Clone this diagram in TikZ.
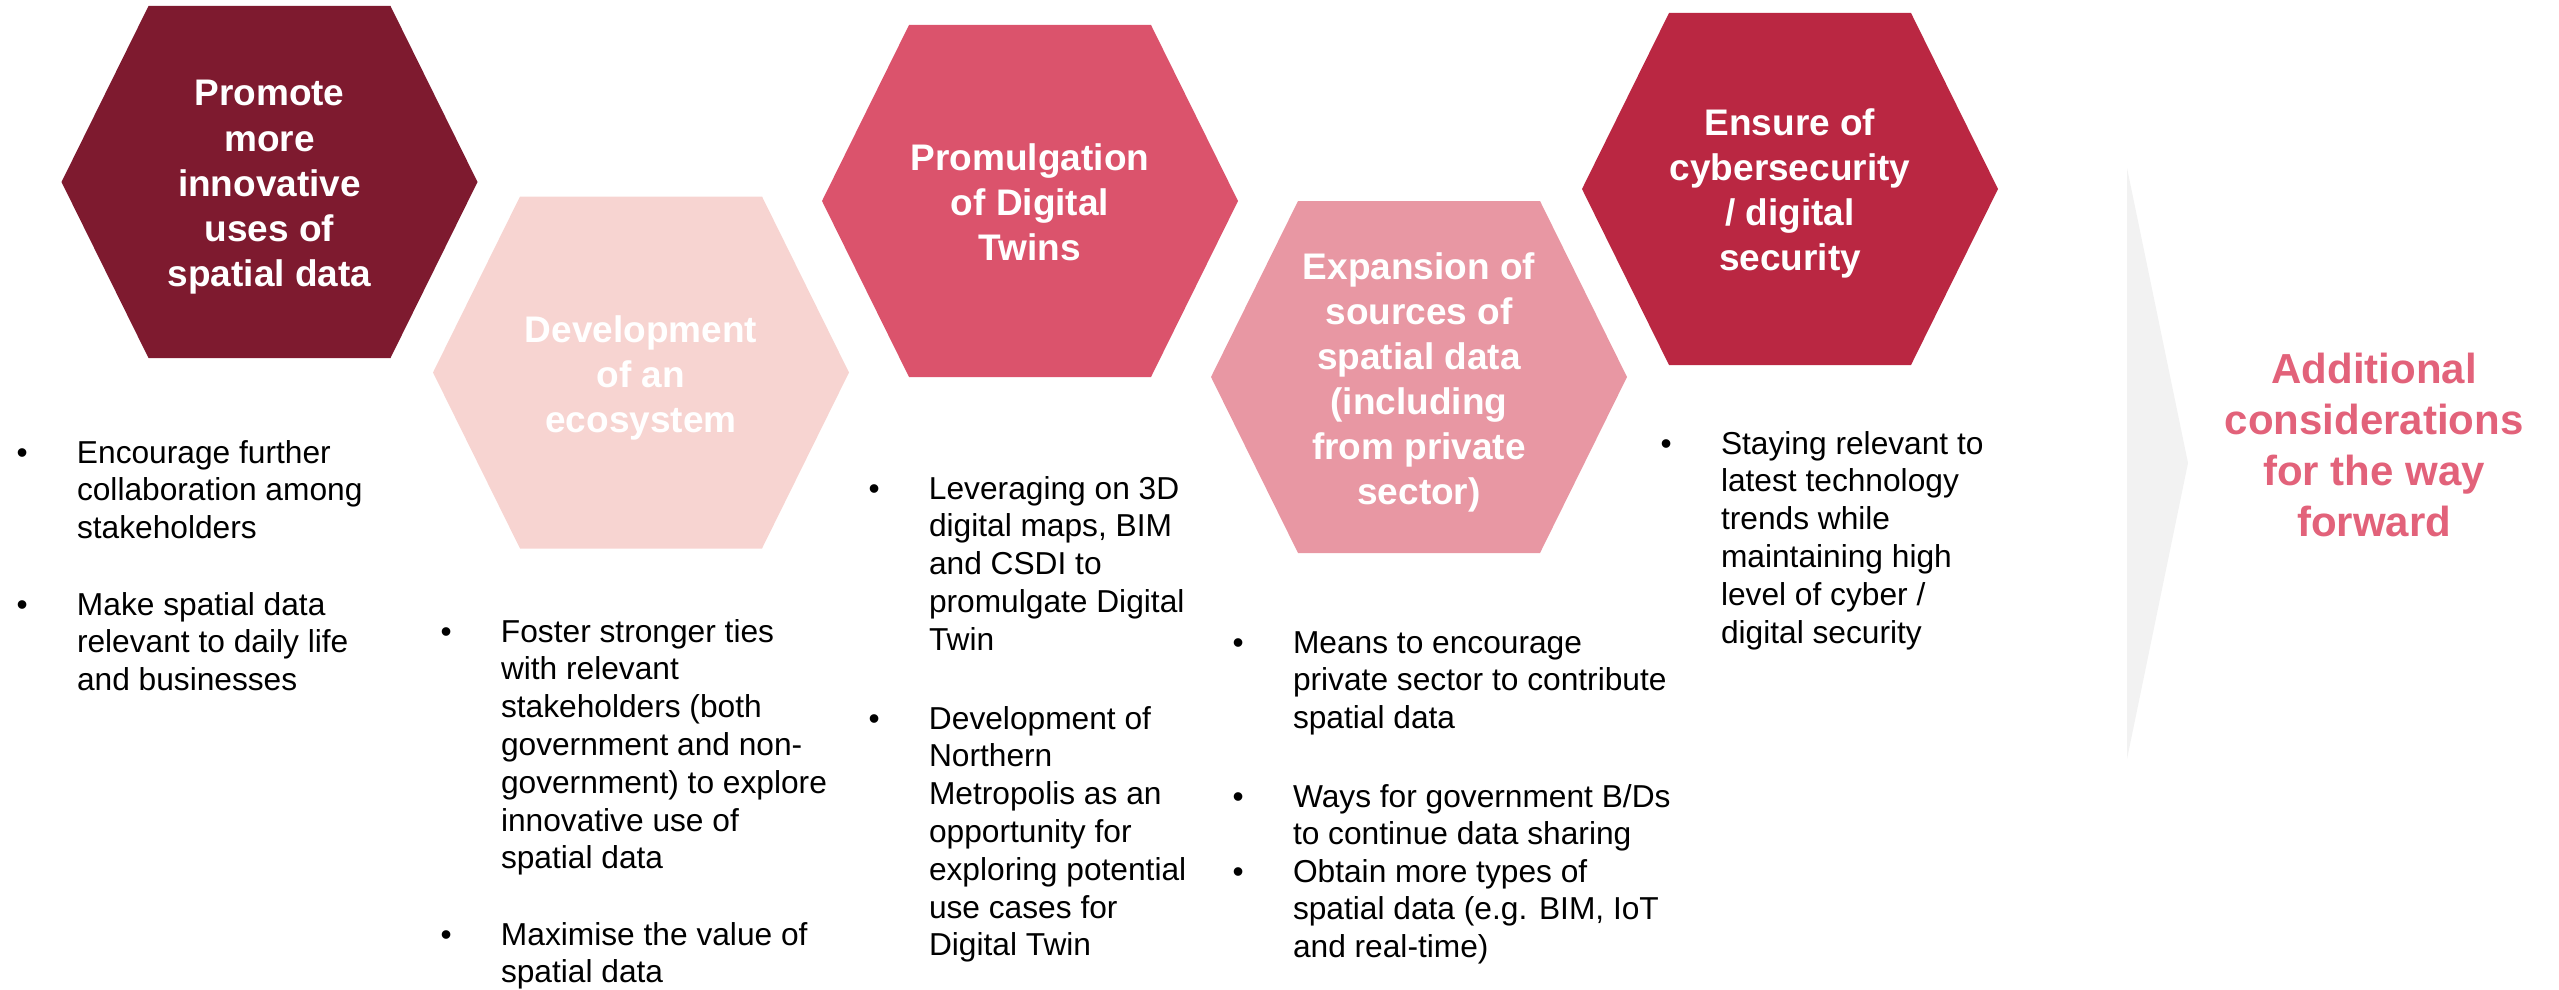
\documentclass[tikz,border=0pt]{standalone}
\usepackage{fontspec}
\setmainfont{Liberation Sans}
\definecolor{hexA}{HTML}{7E1A2F}
\definecolor{hexB}{HTML}{F7D4D1}
\definecolor{hexC}{HTML}{DB536C}
\definecolor{hexD}{HTML}{E897A3}
\definecolor{hexE}{HTML}{BA2742}
\definecolor{chev}{HTML}{F2F2F2}
\definecolor{addc}{HTML}{E2627A}
\newcommand\bulfont{\fontsize{31.7}{37.8}\selectfont}
\newcommand\ttlfont{\bfseries\fontsize{37}{45}\selectfont}
\newcommand\addfont{\bfseries\fontsize{42}{51.3}\selectfont}
\newcommand\bitem[1]{\begin{minipage}[t]{480pt}\raggedright\leavevmode\llap{\makebox[60.5pt][l]{\textbullet}}#1\end{minipage}}
\newcommand\ctext[1]{\begin{minipage}[t]{440pt}\centering #1\end{minipage}}
\newcommand\drawhex[3]{\fill[#3] ({#1-208},#2) -- ({#1-121},{#2-176}) -- ({#1+121},{#2-176}) -- ({#1+208},#2) -- ({#1+121},{#2+176}) -- ({#1-121},{#2+176}) -- cycle;}
\tikzset{
  bul/.style={anchor=base west, inner sep=0pt, outer sep=0pt, font=\bulfont, text=black},
  ttl/.style={anchor=base, inner sep=0pt, outer sep=0pt, font=\ttlfont, text=white},
  addt/.style={anchor=base, inner sep=0pt, outer sep=0pt, font=\addfont, text=addc},
}
\begin{document}
\begin{tikzpicture}[x=1pt,y=-1pt]
\useasboundingbox (0,0) rectangle (2559,990);
% hexagons
\drawhex{269.5}{182}{hexA}
\drawhex{641}{372.5}{hexB}
\drawhex{1030}{201}{hexC}
\drawhex{1419}{377}{hexD}
\drawhex{1790}{189}{hexE}
% chevron
\fill[chev] (2127,168) -- (2188,463) -- (2127,759) -- cycle;
% titles
\node[ttl] (t1) at (269.5,106) {\ctext{Promote\\more\\innovative\\uses of\\spatial data}};
\node[ttl] (t2) at (641,342) {\ctext{Development\\of an\\ecosystem}};
\node[ttl] (t3) at (1030,170) {\ctext{Promulgation\\of Digital\\Twins}};
\node[ttl] (t4) at (1419,279) {\ctext{Expansion of\\sources of\\spatial data\\(including\\from private\\sector)}};
\node[ttl] (t5) at (1790,135) {\ctext{Ensure of\\cybersecurity\\/ digital\\security}};
\node[addt] (add) at (2374,383) {\ctext{Additional\\considerations\\for the way\\forward}};
% bullets column 1
\node[bul] (b1a) at (77,463) {\bitem{Encourage further\\collaboration among\\stakeholders}};
\node[bul] (b1b) at (77,615) {\bitem{Make spatial data\\relevant to daily life\\and businesses}};
% column 2
\node[bul] (b2a) at (501,642) {\bitem{Foster stronger ties\\with relevant\\stakeholders (both\\government and non-\\government) to explore\\innovative use of\\spatial data}};
\node[bul] (b2b) at (501,945) {\bitem{Maximise the value of\\spatial data}};
% column 3
\node[bul] (b3a) at (929,499) {\bitem{Leveraging on 3D\\digital maps, BIM\\and CSDI to\\promulgate Digital\\Twin}};
\node[bul] (b3b) at (929,729) {\bitem{Development of\\Northern\\Metropolis as an\\opportunity for\\exploring potential\\use cases for\\Digital Twin}};
% column 4
\node[bul] (b4a) at (1293,653) {\bitem{Means to encourage\\private sector to contribute\\spatial data}};
\node[bul] (b4b) at (1293,807) {\bitem{Ways for government B/Ds\\to continue data sharing}};
\node[bul] (b4c) at (1293,882) {\bitem{Obtain more types of\\spatial data (e.g. BIM, IoT\\and real-time)}};
% column 5
\node[bul] (b5a) at (1721,454) {\bitem{Staying relevant to\\latest technology\\trends while\\maintaining high\\level of cyber /\\digital security}};
\end{tikzpicture}
\end{document}
